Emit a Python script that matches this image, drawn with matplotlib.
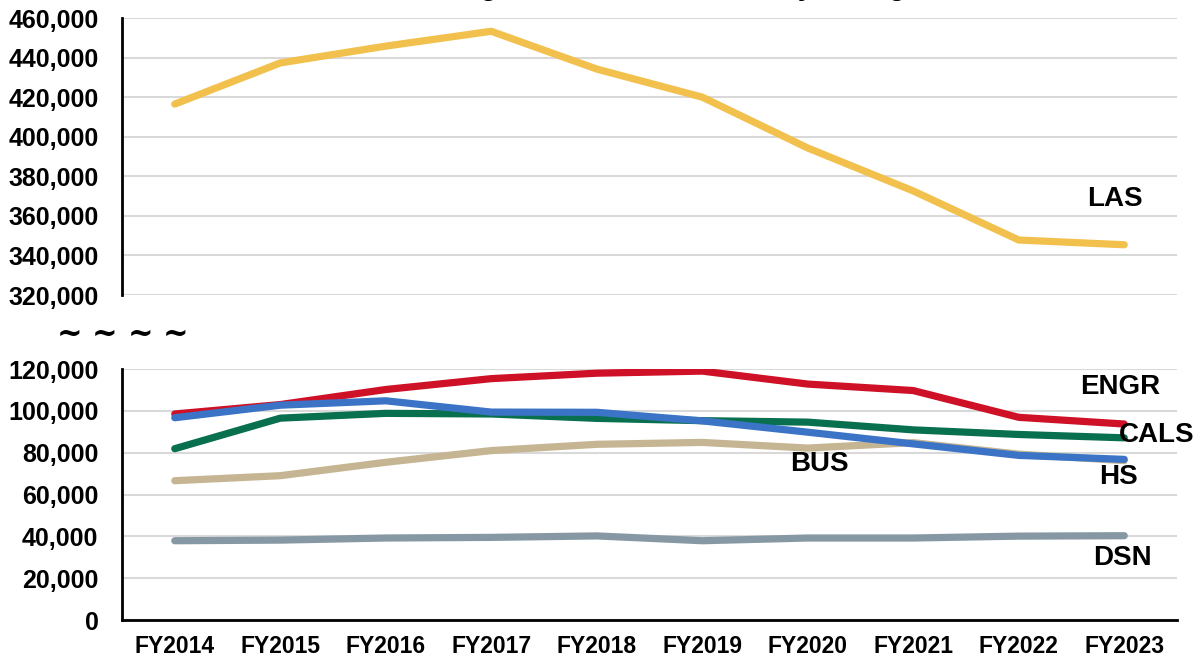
import matplotlib
matplotlib.use("Agg")
import matplotlib.pyplot as plt
from matplotlib.ticker import FuncFormatter

plt.rcParams["font.family"] = ["Liberation Sans", "DejaVu Sans"]
plt.rcParams["font.weight"] = "bold"

years = ["FY2014", "FY2015", "FY2016", "FY2017", "FY2018",
         "FY2019", "FY2020", "FY2021", "FY2022", "FY2023"]

# credit hours by college
las = [416500, 437300, 445800, 453300, 434200, 420000, 394300, 372600, 347800, 345400]
engr = [98500, 103000, 110200, 115400, 118000, 119000, 112800, 109700, 96900, 93700]
hs = [96700, 102700, 104800, 99400, 99300, 95200, 89800, 84200, 78700, 76800]
cals = [81900, 96500, 98800, 98500, 96400, 95300, 94600, 90900, 88700, 87100]
bus = [66600, 69000, 75400, 81000, 84000, 84900, 82200, 84800, 79300, 76200]
dsn = [37900, 38200, 39200, 39500, 40200, 37900, 39200, 39200, 40100, 40300]

colors = {
    "LAS": "#F2C04C",
    "ENGR": "#CE1126",
    "HS": "#3B74C6",
    "CALS": "#08704F",
    "BUS": "#C5B592",
    "DSN": "#8798A5",
}

fig = plt.figure(figsize=(12.01, 6.6), dpi=100)
ax_top = fig.add_axes([0.1016, 0.553, 0.8784, 0.4197])
ax_bot = fig.add_axes([0.1016, 0.0606, 0.8784, 0.3803])

x = list(range(len(years)))
lw = 5.2

ax_top.plot(x, las, color=colors["LAS"], lw=lw, solid_capstyle="round", solid_joinstyle="round")
for vals, key in [(dsn, "DSN"), (bus, "BUS"), (cals, "CALS"), (engr, "ENGR"), (hs, "HS")]:
    ax_bot.plot(x, vals, color=colors[key], lw=lw, solid_capstyle="round", solid_joinstyle="round")

fmt = FuncFormatter(lambda v, p: f"{int(v):,}")
for ax in (ax_top, ax_bot):
    ax.set_xlim(-0.5, 9.5)
    ax.yaxis.set_major_formatter(fmt)
    ax.grid(axis="y", color="#D9D9D9", lw=1.5)
    ax.set_axisbelow(True)
    for s in ("top", "right"):
        ax.spines[s].set_visible(False)
    ax.spines["left"].set_linewidth(2)
    ax.tick_params(axis="y", length=0, pad=17, labelsize=18)

ax_top.set_ylim(320000, 460000)
ax_top.set_yticks(range(320000, 460001, 20000))
ax_top.spines["bottom"].set_visible(False)
ax_top.set_xticks([])

ax_bot.set_ylim(0, 120000)
ax_bot.set_yticks(range(0, 120001, 20000))
ax_bot.spines["bottom"].set_linewidth(2)
ax_bot.set_xticks(x)
ax_bot.set_xticklabels(years)
ax_bot.tick_params(axis="x", length=0, pad=11, labelsize=16.5)

# series labels
lab = dict(fontsize=20, fontweight="bold", ha="center", va="center")
ax_top.text(8.91, 368600, "LAS", **lab)
ax_bot.text(8.96, 111400, "ENGR", **lab)
ax_bot.text(9.31, 88600, "CALS", **lab)
ax_bot.text(8.95, 68300, "HS", **lab)
ax_bot.text(6.11, 74500, "BUS", **lab)
ax_bot.text(8.98, 29600, "DSN", **lab)

# axis break marks
for xf in (0.058, 0.087, 0.117, 0.146):
    fig.text(xf, 0.493, "~", fontsize=22, fontweight="bold", ha="center", va="center",
             family="DejaVu Serif")

# title, cropped at the top edge in the original
fig.text(0.55, 1.007, "Undergraduate Credit Hours by College", fontsize=20,
         fontweight="bold", ha="center", va="baseline")

fig.savefig("out.png", dpi=100)
